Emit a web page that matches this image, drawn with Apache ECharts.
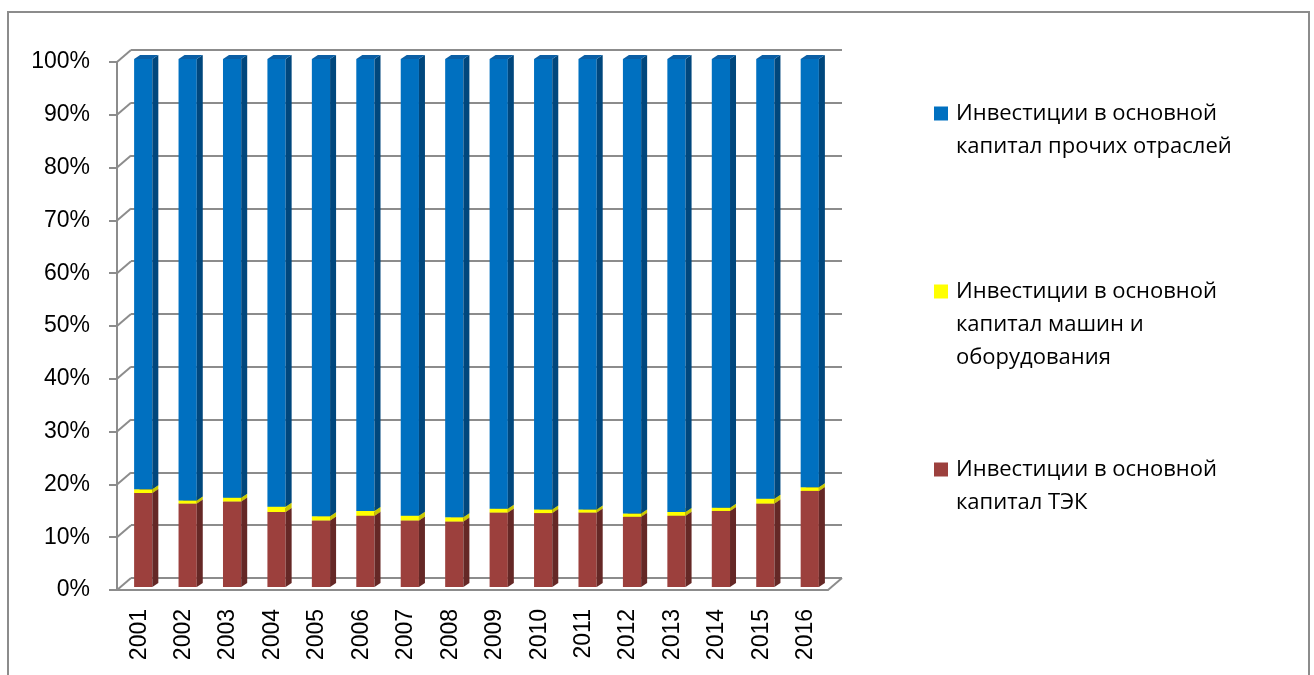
<!DOCTYPE html>
<html>
<head>
<meta charset="utf-8">
<script src="https://cdn.jsdelivr.net/npm/echarts@6/dist/echarts.min.js"></script>
<style>
html, body { margin: 0; padding: 0; background: #fff; }
#chart { width: 1314px; height: 675px; }
</style>
</head>
<body>
<div id="chart"></div>
<script>
// доли инвестиций, % (100% накопление)
var years = ['2001', '2002', '2003', '2004', '2005', '2006', '2007', '2008',
  '2009', '2010', '2011', '2012', '2013', '2014', '2015', '2016']
var tekShare = [17.8, 15.8, 16.2, 14.2, 12.6, 13.5, 12.6, 12.4, 14.1, 14.0, 14.1, 13.3, 13.5, 14.4, 15.8, 18.2]
var machShare = [0.7, 0.6, 0.7, 1.0, 0.8, 0.9, 0.9, 0.8, 0.7, 0.7, 0.6, 0.6, 0.7, 0.6, 0.9, 0.7]
var otherShare = [81.5, 83.6, 83.1, 84.8, 86.6, 85.6, 86.5, 86.8, 85.2, 85.3, 85.3, 86.1, 85.8, 85.0, 83.3, 81.1]
var yTicks = [0, 10, 20, 30, 40, 50, 60, 70, 80, 90, 100]

var NAME_OTHER = 'Инвестиции в основной капитал прочих отраслей'
var NAME_MACH = 'Инвестиции в основной капитал машин и оборудования'
var NAME_TEK = 'Инвестиции в основной капитал ТЭК'

var legendText = {}
legendText[NAME_OTHER] = '\nИнвестиции в основной\nкапитал прочих отраслей'
legendText[NAME_MACH] = '\n\nИнвестиции в основной\nкапитал машин и\nоборудования'
legendText[NAME_TEK] = '\nИнвестиции в основной\nкапитал ТЭК'

// накопленные отрезки [индекс, низ, верх]
var layers = [tekShare, machShare, otherShare]
var boxes = [[], [], []]
years.forEach(function (y, i) {
  var base = 0
  layers.forEach(function (arr, k) {
    boxes[k].push([i, base, base + arr[i]])
    base += arr[i]
  })
})

function makeBox(front, side, top) {
  return function (params, api) {
    var i = api.value(0)
    var p0 = api.coord([i, api.value(1)])
    var p1 = api.coord([i, api.value(2)])
    var w = api.size([1, 0])[0] * 0.41
    var x = p0[0] - w / 2
    var dx = 6
    var dy = -4
    return {
      type: 'group',
      children: [
        { type: 'rect', shape: { x: x, y: p1[1], width: w, height: p0[1] - p1[1] }, style: { fill: front } },
        { type: 'polygon', shape: { points: [[x + w, p1[1]], [x + w + dx, p1[1] + dy], [x + w + dx, p0[1] + dy], [x + w, p0[1]]] }, style: { fill: side } },
        { type: 'polygon', shape: { points: [[x, p1[1]], [x + dx, p1[1] + dy], [x + w + dx, p1[1] + dy], [x + w, p1[1]]] }, style: { fill: top } }
      ]
    }
  }
}

// диагонали левой стенки и пола
function wallLinks(params, api) {
  var v = api.value(0)
  var p = api.coord([0, v])
  var cs = params.coordSys
  var lineStyle = { stroke: '#8c8c8c', lineWidth: 2 }
  var children = [{ type: 'line', shape: { x1: cs.x, y1: p[1], x2: cs.x + 14, y2: p[1] - 12 }, style: lineStyle }]
  if (v === 0) {
    children.push({ type: 'line', shape: { x1: cs.x + cs.width, y1: p[1], x2: cs.x + cs.width + 14, y2: p[1] - 12 }, style: lineStyle })
  }
  return { type: 'group', children: children }
}

var chartDom = document.getElementById('chart')
var myChart = echarts.init(chartDom)
var axisFont = '"Liberation Sans", Arial, sans-serif'
var option = {
  animation: false,
  backgroundColor: '#fff',
  graphic: [{
    type: 'rect',
    shape: { x: 8, y: 12, width: 1301, height: 700 },
    style: { fill: 'none', stroke: '#8c8c8c', lineWidth: 2 },
    silent: true
  }],
  legend: {
    orient: 'vertical',
    left: 929,
    top: 59,
    itemGap: 46,
    itemWidth: 14,
    itemHeight: 14,
    icon: 'rect',
    data: [NAME_OTHER, NAME_MACH, NAME_TEK],
    formatter: function (name) { return legendText[name] },
    textStyle: { fontFamily: '"Open Sans"', fontSize: 22, lineHeight: 33, color: '#000', padding: [0, 0, 0, 3] }
  },
  grid: [
    { left: 117, top: 62, width: 711, height: 528 },
    { left: 131, top: 50, width: 711, height: 528 },
    { left: 121, top: 59, width: 711, height: 528 }
  ],
  xAxis: [
    {
      gridIndex: 0,
      type: 'category',
      data: years,
      axisLine: { lineStyle: { color: '#8c8c8c', width: 2 } },
      axisTick: { length: 8, lineStyle: { color: '#8c8c8c', width: 2 } },
      axisLabel: { rotate: 90, margin: 19, fontSize: 23, color: '#000', fontFamily: axisFont }
    },
    { gridIndex: 1, type: 'value', min: 0, max: 1, show: false },
    { gridIndex: 2, type: 'category', data: years, show: false }
  ],
  yAxis: [
    {
      gridIndex: 0,
      type: 'value',
      min: 0,
      max: 100,
      interval: 10,
      axisLine: { show: true, lineStyle: { color: '#8c8c8c', width: 2 } },
      axisTick: { show: true, length: 8, lineStyle: { color: '#8c8c8c', width: 2 } },
      axisLabel: { formatter: '{value}%', margin: 27, fontSize: 23, color: '#000', fontFamily: axisFont },
      splitLine: { show: false }
    },
    {
      gridIndex: 1,
      type: 'value',
      min: 0,
      max: 100,
      interval: 10,
      axisLine: { show: false },
      axisTick: { show: false },
      axisLabel: { show: false },
      splitLine: { show: true, lineStyle: { color: '#8c8c8c', width: 2 } }
    },
    { gridIndex: 2, type: 'value', min: 0, max: 100, show: false }
  ],
  series: [
    {
      type: 'custom',
      xAxisIndex: 0,
      yAxisIndex: 0,
      silent: true,
      renderItem: wallLinks,
      data: yTicks.map(function (v) { return [v] }),
      encode: { y: 0 }
    },
    {
      name: NAME_TEK,
      type: 'custom',
      xAxisIndex: 2,
      yAxisIndex: 2,
      itemStyle: { color: '#9C403D' },
      renderItem: makeBox('#9C403D', '#652826', '#7d3230'),
      encode: { x: 0, y: [1, 2] },
      data: boxes[0]
    },
    {
      name: NAME_MACH,
      type: 'custom',
      xAxisIndex: 2,
      yAxisIndex: 2,
      itemStyle: { color: '#FFFF00' },
      renderItem: makeBox('#FFFF00', '#C8C800', '#E0E000'),
      encode: { x: 0, y: [1, 2] },
      data: boxes[1]
    },
    {
      name: NAME_OTHER,
      type: 'custom',
      xAxisIndex: 2,
      yAxisIndex: 2,
      itemStyle: { color: '#0070C0' },
      renderItem: makeBox('#0070C0', '#00477D', '#0B5FA5'),
      encode: { x: 0, y: [1, 2] },
      data: boxes[2]
    }
  ]
}
option && myChart.setOption(option)
</script>
</body>
</html>
